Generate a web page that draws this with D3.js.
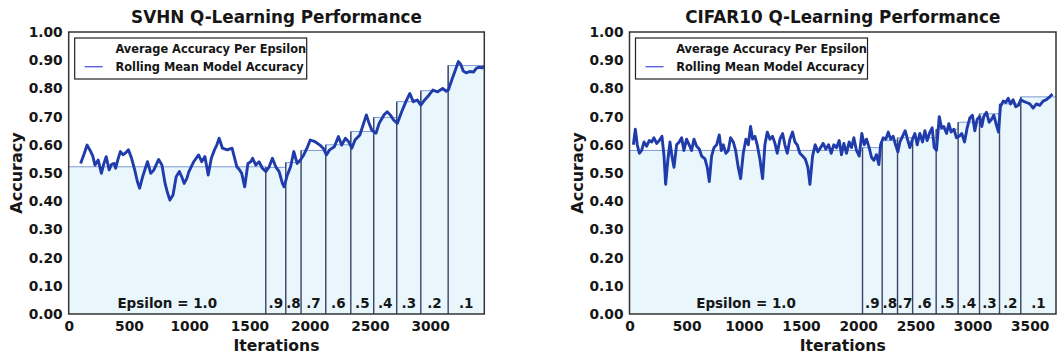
<!DOCTYPE html>
<html>
<head>
<meta charset="utf-8">
<script src="https://cdn.jsdelivr.net/npm/d3@7/dist/d3.min.js"></script>
<style>
  html, body { margin: 0; padding: 0; background: #fff; }
  svg { display: block; font-family: "DejaVu Sans", sans-serif; font-weight: bold; }
</style>
</head>
<body>
<svg id="chart" width="1062" height="358"></svg>
<script>
// ---- SVHN run -------------------------------------------------------------
const svhnIter = [99,130,152,178,200,218,245,271,290,311,336,355,377,390,410,429,450,469,496,522,548,570,589,614,635,654,681,707,747,774,800,820,840,866,892,919,940,959,980,998,1038,1078,1104,1131,1158,1184,1210,1230,1249,1276,1316,1356,1396,1420,1436,1461,1488,1511,1527,1553,1580,1608,1636,1664,1691,1719,1747,1774,1788,1815,1842,1869,1896,1923,1951,1978,2005,2045,2086,2113,2139,2166,2205,2239,2266,2297,2324,2350,2377,2417,2444,2471,2489,2516,2551,2577,2617,2644,2670,2697,2728,2764,2799,2832,2860,2893,2923,2955,2990,3023,3063,3104,3135,3152,3180,3210,3235,3255,3275,3300,3330,3360,3385,3410,3430,3450];
const svhnAcc = [.534,.57,.599,.58,.56,.528,.546,.499,.53,.558,.511,.53,.534,.517,.55,.576,.565,.57,.582,.552,.511,.47,.446,.487,.515,.54,.499,.511,.548,.528,.463,.43,.404,.422,.487,.505,.485,.463,.48,.505,.54,.564,.54,.558,.493,.552,.582,.6,.623,.588,.582,.588,.522,.51,.499,.451,.534,.54,.552,.528,.54,.517,.505,.522,.552,.522,.505,.463,.451,.493,.522,.576,.534,.546,.564,.588,.617,.611,.599,.588,.564,.582,.593,.629,.599,.623,.611,.588,.617,.635,.67,.706,.682,.652,.641,.676,.706,.717,.706,.688,.676,.717,.753,.782,.753,.759,.741,.759,.776,.794,.788,.8,.79,.795,.83,.865,.895,.885,.862,.855,.86,.858,.872,.875,.873,.877];
const svhnBounds = [0,1636,1802,1929,2134,2342,2532,2723,2923,3150,3450];
const svhnAvg = [0.522,0.52,0.537,0.58,0.60,0.647,0.697,0.753,0.792,0.881];

// ---- CIFAR10 run ----------------------------------------------------------
const cifarIter = [34,51,68,86,106,127,150,173,194,214,237,261,284,302,316,334,354,371,389,412,435,456,476,499,522,543,564,587,610,631,660,680,698,718,739,762,785,803,820,843,864,884,908,928,951,972,995,1018,1039,1059,1077,1097,1117,1140,1164,1184,1205,1228,1251,1272,1292,1316,1339,1359,1380,1403,1426,1447,1467,1490,1514,1537,1560,1578,1601,1624,1648,1671,1694,1717,1741,1764,1787,1811,1834,1854,1875,1898,1921,1942,1962,1985,2009,2032,2053,2073,2096,2117,2137,2160,2181,2196,2219,2242,2263,2283,2306,2327,2347,2365,2388,2411,2431,2452,2475,2496,2516,2539,2563,2583,2603,2627,2647,2665,2685,2709,2729,2749,2773,2793,2813,2837,2860,2883,2906,2930,2953,2976,2999,3020,3040,3063,3081,3098,3122,3145,3166,3186,3209,3227,3244,3268,3291,3312,3332,3355,3378,3401,3422,3442,3472,3501,3530,3559,3588,3617,3646,3675,3699];
const cifarAcc = [.60,.655,.60,.57,.58,.61,.595,.615,.61,.625,.605,.615,.63,.56,.46,.54,.61,.56,.52,.60,.61,.625,.58,.62,.60,.58,.62,.595,.585,.56,.55,.52,.47,.56,.59,.60,.635,.58,.60,.57,.58,.625,.61,.58,.52,.48,.57,.62,.60,.665,.62,.63,.60,.55,.48,.60,.645,.62,.63,.605,.57,.62,.64,.60,.57,.62,.645,.61,.60,.57,.56,.55,.52,.46,.56,.60,.575,.59,.605,.585,.60,.57,.60,.59,.615,.565,.605,.57,.61,.59,.625,.58,.56,.64,.60,.62,.59,.555,.545,.565,.53,.60,.625,.62,.645,.62,.63,.60,.575,.61,.63,.65,.62,.59,.62,.64,.60,.64,.61,.65,.615,.645,.66,.59,.58,.70,.66,.665,.64,.675,.645,.655,.625,.63,.64,.61,.66,.695,.705,.65,.69,.70,.665,.70,.715,.68,.69,.705,.67,.645,.735,.755,.75,.765,.745,.76,.735,.74,.76,.755,.75,.745,.73,.745,.74,.755,.76,.77,.78];
const cifarBounds = [0,2038,2210,2344,2476,2682,2874,3061,3236,3422,3730];
const cifarAvg = [0.58,0.59,0.615,0.625,0.625,0.655,0.68,0.71,0.745,0.77];

// ---- shared labels --------------------------------------------------------
const epsLabels = ["Epsilon = 1.0", ".9", ".8", ".7", ".6", ".5", ".4", ".3", ".2", ".1"];
const yTicks = [0, 0.1, 0.2, 0.3, 0.4, 0.5, 0.6, 0.7, 0.8, 0.9, 1.0];
const svhnXTicks = [0, 500, 1000, 1500, 2000, 2500, 3000];
const cifarXTicks = [0, 500, 1000, 1500, 2000, 2500, 3000, 3500];
const legendLabels = ["Average Accuracy Per Epsilon", "Rolling Mean Model Accuracy"];

const svg = d3.select("#chart");
const TOP = 32, BOTTOM = 314;
const INK = "#161616";

function drawPanel(cfg) {
  const x = d3.scaleLinear().domain([0, cfg.xMax]).range([cfg.left, cfg.right]);
  const y = d3.scaleLinear().domain([0, 1]).range([BOTTOM, TOP]);
  const g = svg.append("g");

  // per-epsilon average as a step outline with a pale fill
  const steps = cfg.avg.map((v, i) => ({ x: cfg.bounds[i], v }));
  steps.push({ x: cfg.bounds[cfg.bounds.length - 1], v: cfg.avg[cfg.avg.length - 1] });

  g.append("path")
    .datum(steps)
    .attr("d", d3.area().curve(d3.curveStepAfter).x(d => x(d.x)).y0(y(0)).y1(d => y(d.v)))
    .attr("fill", "#e9f7fc");

  g.append("path")
    .datum(steps)
    .attr("d", d3.line().curve(d3.curveStepAfter).x(d => x(d.x)).y(d => y(d.v)))
    .attr("fill", "none")
    .attr("stroke", "#7d9ad8")
    .attr("stroke-width", 1);

  // boundaries between epsilon phases
  g.selectAll("line.bound")
    .data(cfg.bounds.slice(1, -1).map((b, i) => ({ b, top: Math.max(cfg.avg[i], cfg.avg[i + 1]) })))
    .join("line")
    .attr("x1", d => x(d.b)).attr("x2", d => x(d.b))
    .attr("y1", y(0)).attr("y2", d => y(d.top))
    .attr("stroke", "#3a4566")
    .attr("stroke-width", 1.4);

  // rolling mean accuracy
  const pts = cfg.iter.map((it, i) => [it, cfg.acc[i]]);
  g.append("path")
    .datum(pts)
    .attr("d", d3.line().x(d => x(d[0])).y(d => y(d[1])))
    .attr("fill", "none")
    .attr("stroke", "#1f3caa")
    .attr("stroke-width", 2.9)
    .attr("stroke-linejoin", "round");

  // epsilon labels centred in each phase
  g.selectAll("text.eps")
    .data(epsLabels)
    .join("text")
    .attr("x", (d, i) => x((cfg.bounds[i] + cfg.bounds[i + 1]) / 2))
    .attr("y", 308)
    .attr("text-anchor", "middle")
    .attr("font-size", 13.5)
    .attr("fill", INK)
    .text(d => d);

  // frame
  g.append("rect")
    .attr("x", cfg.left).attr("y", TOP)
    .attr("width", cfg.right - cfg.left).attr("height", BOTTOM - TOP)
    .attr("fill", "none").attr("stroke", "#333").attr("stroke-width", 1.5);

  // axes
  const ya = g.append("g").attr("transform", `translate(${cfg.left},0)`)
    .call(d3.axisLeft(y).tickValues(yTicks).tickFormat(d3.format(".2f")).tickSize(0).tickPadding(6));
  const xa = g.append("g").attr("transform", `translate(0,${BOTTOM})`)
    .call(d3.axisBottom(x).tickValues(cfg.xTicks).tickFormat(d3.format("d")).tickSize(0).tickPadding(7));
  [ya, xa].forEach(a => {
    a.select(".domain").remove();
    a.selectAll("text").attr("font-size", 13.8).attr("fill", INK)
      .attr("font-family", "DejaVu Sans").attr("font-weight", "bold");
  });

  // legend
  const lx = cfg.left + 6, ly = 38;
  const lg = g.append("g");
  lg.append("rect").attr("x", lx).attr("y", ly).attr("width", 232).attr("height", 41)
    .attr("fill", "#fff").attr("stroke", "#222").attr("stroke-width", 1.2);
  lg.append("line").attr("x1", lx + 10).attr("x2", lx + 28).attr("y1", ly + 28.7).attr("y2", ly + 28.7)
    .attr("stroke", "#5a5ee6").attr("stroke-width", 1.4);
  lg.selectAll("text")
    .data(legendLabels)
    .join("text")
    .attr("x", lx + 40.7)
    .attr("y", (d, i) => ly + 11.3 + i * 17.4)
    .attr("dominant-baseline", "central")
    .attr("font-size", 11.4)
    .attr("fill", INK)
    .text(d => d);

  // titles
  const cx = (cfg.left + cfg.right) / 2;
  g.append("text").attr("x", cx).attr("y", 22.5).attr("text-anchor", "middle")
    .attr("font-size", 16.8).attr("fill", INK).text(cfg.title);
  g.append("text").attr("x", cx).attr("y", 346).attr("text-anchor", "middle")
    .attr("dominant-baseline", "central").attr("font-size", 15.6).attr("fill", INK).text("Iterations");
  g.append("text").attr("transform", `translate(${cfg.yLabelX},173) rotate(-90)`)
    .attr("text-anchor", "middle").attr("dominant-baseline", "central")
    .attr("font-size", 16).attr("fill", INK).text("Accuracy");
}

drawPanel({
  title: "SVHN Q-Learning Performance",
  left: 68.7, right: 484.3, xMax: 3450, yLabelX: 16,
  iter: svhnIter, acc: svhnAcc, bounds: svhnBounds, avg: svhnAvg, xTicks: svhnXTicks
});
drawPanel({
  title: "CIFAR10 Q-Learning Performance",
  left: 629.5, right: 1056, xMax: 3730, yLabelX: 577,
  iter: cifarIter, acc: cifarAcc, bounds: cifarBounds, avg: cifarAvg, xTicks: cifarXTicks
});
</script>
</body>
</html>
